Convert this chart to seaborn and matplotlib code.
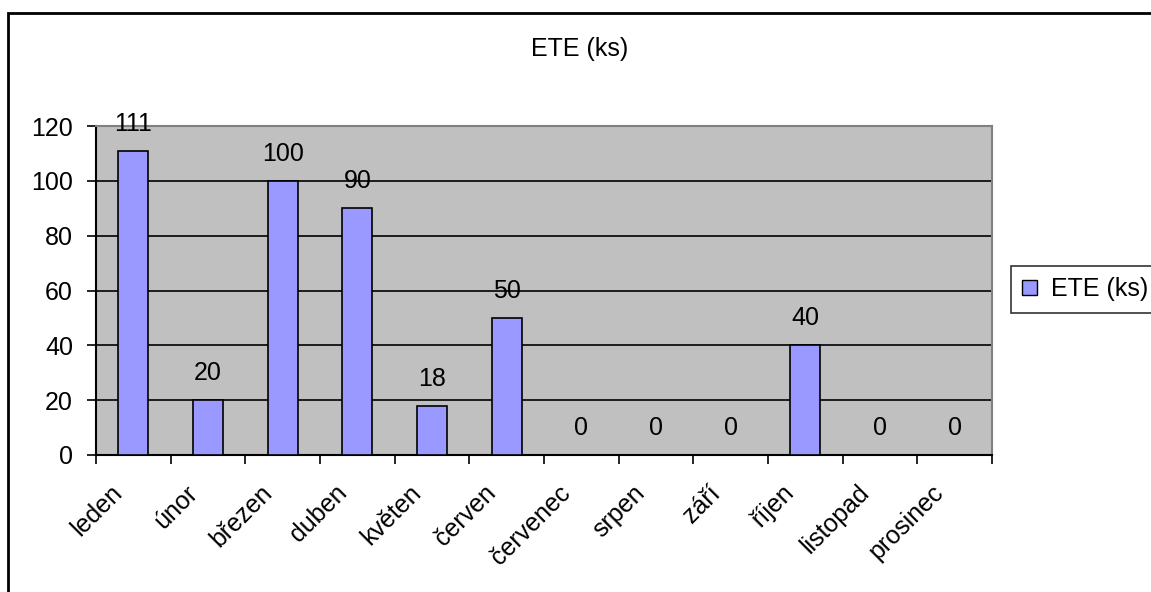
import matplotlib
matplotlib.use("Agg")
import matplotlib.pyplot as plt
import seaborn as sns
import pandas as pd
from matplotlib.patches import Rectangle, Patch
from matplotlib.ticker import FixedLocator
from matplotlib.transforms import ScaledTranslation

months = ["leden", "únor", "březen", "duben", "květen", "červen",
          "červenec", "srpen", "září", "říjen", "listopad", "prosinec"]
values = [111, 20, 100, 90, 18, 50, 0, 0, 0, 40, 0, 0]
y_ticks = [0, 20, 40, 60, 80, 100, 120]
series_name = "ETE (ks)"

sns.set_style("white")
plt.rcParams["font.family"] = ["Liberation Sans", "DejaVu Sans"]
plt.rcParams["font.size"] = 18
plt.rcParams["text.color"] = "black"
plt.rcParams["xtick.color"] = "black"
plt.rcParams["ytick.color"] = "black"
plt.rcParams["xtick.labelcolor"] = "black"
plt.rcParams["ytick.labelcolor"] = "black"

FS = 18

df = pd.DataFrame({"mesic": months, "pocet": values})

fig = plt.figure(figsize=(11.51, 5.92), dpi=100)
ax = fig.add_axes([96 / 1151, 137 / 592, 896 / 1151, 329 / 592])

bar_color = "#9999FF"
sns.barplot(data=df, x="mesic", y="pocet", color=bar_color, width=0.4,
            edgecolor="black", linewidth=1.2, saturation=1, ax=ax, zorder=3)

ax.set_facecolor("#C0C0C0")
ax.set_xlim(-0.5, len(months) - 0.5)
ax.set_ylim(0, 120)
ax.set_yticks(y_ticks)
ax.set_yticklabels([str(t) for t in y_ticks], fontsize=FS)
ax.yaxis.grid(True, color="black", linewidth=1.2, zorder=1)
ax.set_axisbelow(True)
ax.set_xlabel("")
ax.set_ylabel("")

# category labels centred, tick marks at category boundaries
ax.set_xticks(range(len(months)))
ax.set_xticklabels(months, rotation=45, ha="right", rotation_mode="anchor",
                   fontsize=FS)
ax.tick_params(axis="x", which="major", length=0, pad=12)
ax.xaxis.set_minor_locator(FixedLocator([i - 0.5 for i in range(len(months) + 1)]))
ax.tick_params(axis="x", which="minor", length=6.5, width=1.2, color="black",
               direction="out", bottom=True)
ax.tick_params(axis="y", which="major", length=6.5, width=1.2, color="black",
               direction="out", left=True, pad=10)

shift = ScaledTranslation(-23 / 100, -9 / 100, fig.dpi_scale_trans)
for lab in ax.get_xticklabels():
    lab.set_transform(lab.get_transform() + shift)

for side in ["left", "bottom"]:
    ax.spines[side].set_color("black")
    ax.spines[side].set_linewidth(1.5)
for side in ["top", "right"]:
    ax.spines[side].set_color("#808080")
    ax.spines[side].set_linewidth(1.5)

# value labels above each bar
for i, v in enumerate(values):
    ax.annotate(str(v), (i, v), xytext=(0, 20), textcoords="offset pixels",
                ha="center", va="baseline", fontsize=FS, color="black",
                zorder=5)

fig.text(580 / 1151, 1 - 49 / 592, series_name, ha="center", va="center",
         fontsize=FS, color="black")

# legend box at the right
handle = Patch(facecolor=bar_color, edgecolor="black", linewidth=1)
leg = fig.legend([handle], [series_name], loc="upper left",
                 bbox_to_anchor=(1011 / 1151, 1 - 266 / 592),
                 frameon=True, fancybox=False, fontsize=FS,
                 handlelength=0.6, handleheight=0.6, handletextpad=0.55,
                 borderpad=0.45, borderaxespad=0)
leg.get_frame().set_edgecolor("black")
leg.get_frame().set_linewidth(1.2)

# chart-area border
fig.patches.append(Rectangle((8 / 1151, -0.1), 1.2, 1 - 13 / 592 + 0.1,
                             transform=fig.transFigure, fill=False,
                             edgecolor="black", linewidth=2, zorder=0))

fig.savefig("out.png", dpi=100)
